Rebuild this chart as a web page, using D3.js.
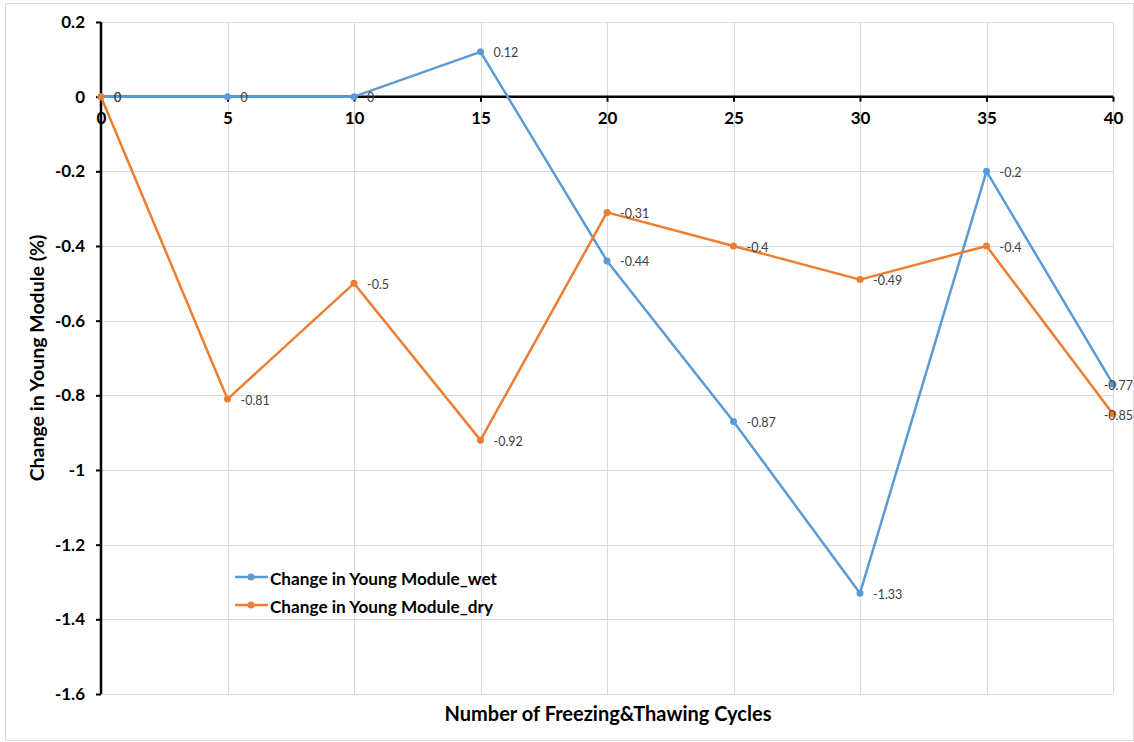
<!DOCTYPE html>
<html>
<head>
<meta charset="utf-8">
<script src="https://cdn.jsdelivr.net/npm/d3@7"></script>
<style>
  html, body { margin: 0; padding: 0; background: #fff; }
  svg { display: block; }
</style>
</head>
<body>
<svg id="chart" width="1134" height="742"></svg>
<script>
// Freeze–thaw cycle counts and the measured change in Young's modulus (%)
const cycles = [0, 5, 10, 15, 20, 25, 30, 35, 40];
const wetChange = [0, 0, 0, 0.12, -0.44, -0.87, -1.33, -0.2, -0.77];
const dryChange = [0, -0.81, -0.5, -0.92, -0.31, -0.4, -0.49, -0.4, -0.85];
const yTicks = [0.2, 0, -0.2, -0.4, -0.6, -0.8, -1, -1.2, -1.4, -1.6];

const seriesList = [
  { name: "Change in Young Module_wet", values: wetChange, color: "#5b9bd5" },
  { name: "Change in Young Module_dry", values: dryChange, color: "#ed7d31" }
];

const W = 1134, H = 742;
const plot = { left: 101, right: 1113, top: 22, bottom: 694 };
const svg = d3.select("#chart");
const FONT = "Lato, 'Open Sans', sans-serif";
const fmt = d => String(+(+d).toFixed(2));   // plain hyphen-minus, no trailing zeros

// outer chart frame
svg.append("rect")
  .attr("x", 5.5).attr("y", 3.5)
  .attr("width", W - 6).attr("height", H - 5)
  .attr("fill", "#fff").attr("stroke", "#d9d9d9").attr("stroke-width", 1);

const x = d3.scaleLinear().domain([0, 40]).range([plot.left, plot.right]);
const y = d3.scaleLinear().domain([-1.6, 0.2]).range([plot.bottom, plot.top]);

// gridlines
const grid = svg.append("g").attr("stroke", "#d9d9d9").attr("stroke-width", 1);
grid.selectAll("line.h").data(yTicks).join("line")
  .attr("x1", plot.left).attr("x2", plot.right)
  .attr("y1", d => Math.round(y(d)) + 0.5).attr("y2", d => Math.round(y(d)) + 0.5);
grid.selectAll("line.v").data(cycles.slice(1)).join("line")
  .attr("x1", d => Math.round(x(d)) + 0.5).attr("x2", d => Math.round(x(d)) + 0.5)
  .attr("y1", plot.top).attr("y2", plot.bottom);

// y axis on the left edge
const yAxis = svg.append("g")
  .attr("transform", `translate(${plot.left},0)`)
  .call(d3.axisLeft(y).tickValues(yTicks).tickSize(5).tickPadding(11).tickFormat(fmt));
yAxis.select(".domain").attr("stroke", "#000").attr("stroke-width", 2.5)
  .attr("d", `M0,${plot.top}V${plot.bottom}`);
yAxis.selectAll(".tick line").attr("stroke", "#000").attr("stroke-width", 2);
yAxis.selectAll(".tick text")
  .attr("font-family", FONT).attr("font-weight", "bold")
  .attr("font-size", 17).attr("fill", "#000");

// x axis along the zero line
const xAxis = svg.append("g")
  .attr("transform", `translate(0,${y(0)})`)
  .call(d3.axisBottom(x).tickValues(cycles).tickSize(5).tickPadding(10).tickFormat(fmt));
xAxis.select(".domain").attr("stroke", "#000").attr("stroke-width", 2.5)
  .attr("d", `M${plot.left},0H${plot.right}`);
xAxis.selectAll(".tick line").attr("stroke", "#000").attr("stroke-width", 2);
xAxis.selectAll(".tick text")
  .attr("font-family", FONT).attr("font-weight", "bold")
  .attr("font-size", 17).attr("fill", "#000");

// series lines and markers
const line = d3.line().x((d, i) => x(cycles[i])).y(d => y(d));
seriesList.forEach(s => {
  const g = svg.append("g");
  g.append("path").datum(s.values)
    .attr("d", line).attr("fill", "none")
    .attr("stroke", s.color).attr("stroke-width", 2.5)
    .attr("stroke-linejoin", "round");
  g.selectAll("circle").data(s.values).join("circle")
    .attr("cx", (d, i) => x(cycles[i])).attr("cy", d => y(d))
    .attr("r", 3.5).attr("fill", s.color);
});

// value labels to the right of each point
seriesList.forEach(s => {
  svg.append("g").selectAll("text").data(s.values).join("text")
    .attr("font-family", FONT).attr("font-size", 12.5).attr("fill", "#404040")
    .attr("dominant-baseline", "central")
    .attr("y", d => y(d) + 1)
    .text(fmt)
    .attr("x", function(d, i) {
      const px = x(cycles[i]) + 13;
      const w = this.getComputedTextLength();
      return Math.min(px, W - 1 - w);
    });
});

// legend
const legend = svg.append("g");
seriesList.forEach((s, i) => {
  const ly = 577 + i * 28;
  legend.append("line")
    .attr("x1", 235).attr("x2", 268).attr("y1", ly).attr("y2", ly)
    .attr("stroke", s.color).attr("stroke-width", 2.5);
  legend.append("circle").attr("cx", 251).attr("cy", ly).attr("r", 3.5).attr("fill", s.color);
  legend.append("text")
    .attr("x", 270).attr("y", ly + 1).attr("dominant-baseline", "central")
    .attr("font-family", FONT).attr("font-weight", "bold").attr("font-size", 17.2)
    .attr("fill", "#000").text(s.name);
});

// axis titles
svg.append("text")
  .attr("x", 608).attr("y", 721)
  .attr("text-anchor", "middle")
  .attr("font-family", FONT).attr("font-weight", "bold").attr("font-size", 20)
  .attr("fill", "#000").text("Number of Freezing&Thawing Cycles");

svg.append("text")
  .attr("transform", `translate(44,${(plot.top + plot.bottom) / 2}) rotate(-90)`)
  .attr("text-anchor", "middle")
  .attr("font-family", FONT).attr("font-weight", "bold").attr("font-size", 19.5)
  .attr("fill", "#000").text("Change in Young Module (%)");
</script>
</body>
</html>
